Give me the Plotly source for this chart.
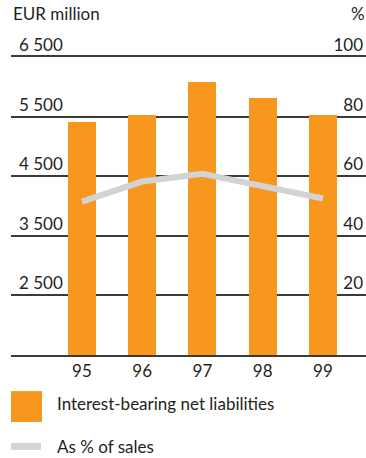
import plotly.graph_objects as go

years = [95, 96, 97, 98, 99]
year_labels = ["95", "96", "97", "98", "99"]
liabilities = [5410, 5525, 6075, 5810, 5525]
pct_of_sales = [51.5, 58.2, 60.8, 56.4, 52.5]

left_ticks = [2500, 3500, 4500, 5500, 6500]
left_labels = ["2 500", "3 500", "4 500", "5 500", "6 500"]
right_ticks = [20, 40, 60, 80, 100]
right_labels = ["20", "40", "60", "80", "100"]

W, H = 366, 458
ML, MR, MT, MB = 11, 0, 56.7, 102.5
PW = W - ML - MR
PH = H - MT - MB

ORANGE = "#F7971E"
GREY = "#D1D3D4"
TEXT = "#231F20"
LINE = "#3A3A3A"
FONT = "Lato"


def px(x):
    return (x - ML) / PW


def py(y):
    return (H - MB - y) / PH


fig = go.Figure()
fig.add_trace(go.Bar(
    x=years, y=liabilities, width=0.465,
    marker=dict(color=ORANGE, line=dict(width=0)),
    name="Interest-bearing net liabilities", yaxis="y",
))
fig.add_trace(go.Scatter(
    x=years, y=pct_of_sales, mode="lines",
    line=dict(color=GREY, width=6),
    name="As % of sales", yaxis="y2",
))

fig.update_layout(
    width=W, height=H,
    margin=dict(l=ML, r=MR, t=MT, b=MB, pad=0),
    paper_bgcolor="white", plot_bgcolor="white",
    showlegend=False,
    font=dict(family=FONT, size=17, color=TEXT),
    xaxis=dict(
        range=[93.822, 99.714], tickvals=years, ticktext=year_labels,
        showgrid=False, zeroline=False,
        showline=True, mirror=True, linecolor=LINE, linewidth=2,
        ticks="", tickfont=dict(size=17, color=TEXT),
        fixedrange=True,
    ),
    yaxis=dict(
        range=[1500, 6500], tickvals=left_ticks, ticktext=left_labels,
        showgrid=True, gridcolor=LINE, gridwidth=2, zeroline=False,
        showline=False, ticks="",
        ticklabelposition="inside top", ticklabeloverflow="allow",
        ticklabelstandoff=5,
        tickfont=dict(size=17, color=TEXT),
    ),
    yaxis2=dict(
        range=[0, 100], tickvals=right_ticks, ticktext=right_labels,
        overlaying="y", side="right",
        showgrid=False, zeroline=False, showline=False, ticks="",
        ticklabelposition="inside top", ticklabeloverflow="allow",
        ticklabelstandoff=0,
        tickfont=dict(size=17, color=TEXT),
    ),
    bargap=0,
)

shapes = [
    dict(type="rect", xref="paper", yref="paper",
         x0=px(11), x1=px(42), y0=py(422.7), y1=py(391.7),
         fillcolor=ORANGE, line=dict(width=0)),
    dict(type="rect", xref="paper", yref="paper",
         x0=px(11), x1=px(41), y0=py(450.7), y1=py(443.7),
         fillcolor=GREY, line=dict(width=0)),
]
fig.update_layout(shapes=shapes)

annotations = [
    dict(text="EUR million", x=px(11), y=py(13), xref="paper", yref="paper",
         xanchor="left", yanchor="middle", showarrow=False),
    dict(text="%", x=px(367), y=py(13), xref="paper", yref="paper",
         xanchor="right", yanchor="middle", showarrow=False),
    dict(text="Interest-bearing net liabilities", x=px(55), y=py(404.5),
         xref="paper", yref="paper", xanchor="left", yanchor="middle",
         showarrow=False),
    dict(text="As % of sales", x=px(55), y=py(447), xref="paper", yref="paper",
         xanchor="left", yanchor="middle", showarrow=False),
]
fig.update_layout(annotations=annotations)

fig.write_html("out.html")
